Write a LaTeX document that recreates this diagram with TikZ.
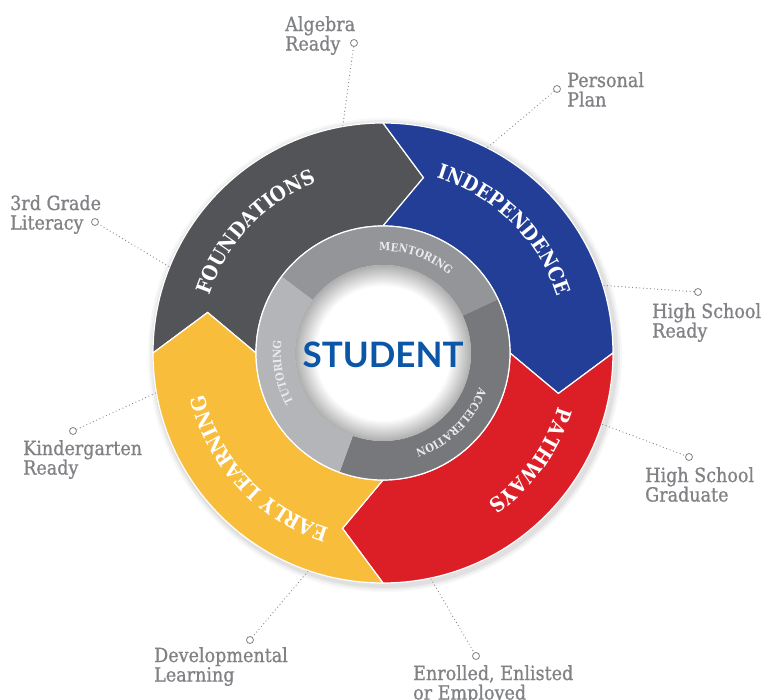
\documentclass[tikz,border=0pt]{standalone}
\usepackage{fontspec}
\setmainfont{DejaVu Serif}
\newfontfamily\milestonefont[FakeStretch=0.9,FakeBold=0.9]{DejaVu Serif}
\newfontfamily\ringfont[FakeStretch=0.9]{DejaVu Serif}
\newfontfamily\hubfont{Lato}
\usetikzlibrary{arrows.meta,positioning,calc,decorations.text}

\definecolor{foundgray}{HTML}{525457}
\definecolor{indblue}{HTML}{233E96}
\definecolor{pathred}{HTML}{DC1F27}
\definecolor{earlyyellow}{HTML}{F8BD3A}
\definecolor{mentorgray}{HTML}{939598}
\definecolor{accelgray}{HTML}{77787B}
\definecolor{tutorgray}{HTML}{B4B5B8}
\definecolor{labelgray}{HTML}{808285}
\definecolor{studentblue}{HTML}{0B56A6}

\pgfdeclareradialshading{hubglow}{\pgfpoint{0bp}{0bp}}{%
  color(0bp)=(white); color(19bp)=(white); color(25bp)=(black!32); color(50bp)=(black!32)}

\newcommand{\segfont}{\ringfont\bfseries\fontsize{20.5}{20.5}\selectfont}
\newcommand{\innerfont}{\ringfont\bfseries\fontsize{11.2}{11.2}\selectfont}

\tikzset{
  ringword/.style={decorate,decoration={text along path,text align=center,
      text color=white,text={|\segfont|#1}}},
  innerword/.style={decorate,decoration={text along path,text align=center,
      text color=white!92!black,text={|\innerfont|#1}}},
  marker/.style={circle,draw=labelgray,fill=white,line width=0.8pt,
      inner sep=0pt,minimum size=7pt},
  leader/.style={labelgray,line width=1.2pt,line cap=round,dash pattern=on 0pt off 3.6pt},
  milestone/.style={anchor=north west,align=left,inner sep=0pt,text=labelgray,
      font=\milestonefont\fontsize{19.5}{19.5}\selectfont}
}

\begin{document}
\begin{tikzpicture}[x=1pt,y=1pt]
        \useasboundingbox (-383,-347) rectangle (385,353);
        \fill[white] (-383,-347) rectangle (385,353);

        % Soft shadow round the outer ring
        \foreach \r/\op in {237/0.03,235/0.04,233/0.05}
            \fill[black,opacity=\op] (2,-2) circle (\r);

        % Outer ring: four arrow pieces, each pointing clockwise
        \foreach \a/\col in {180/foundgray,90/indblue,0/pathred,270/earlyyellow} {
            \fill[\col,draw=white,line width=1.2pt,line join=miter]
                (\a:230) arc[start angle=\a,end angle=\a-90,radius=230]
                -- (\a-103:180) -- (\a-90:127)
                arc[start angle=\a-90,end angle=\a,radius=127]
                -- (\a-13:180) -- cycle;
        }

        % Ring words
        \path[ringword=FOUNDATIONS] (196.5:183) arc[start angle=196.5,end angle=76.5,radius=183];
        \path[ringword=INDEPENDENCE] (105.5:183) arc[start angle=105.5,end angle=-14.5,radius=183];
        \path[ringword=PATHWAYS] (24:183) arc[start angle=24,end angle=-96,radius=183];
        \path[ringword=EARLY LEARNING] (283:183) arc[start angle=283,end angle=163,radius=183];

        % Inner grey ring
        \foreach \s/\e/\col in {143/25/mentorgray,25/-110/accelgray,250/143/tutorgray}
            \fill[\col] (\s:127) arc[start angle=\s,end angle=\e,radius=127]
                -- (\e:88) arc[start angle=\e,end angle=\s,radius=88] -- cycle;
        \draw[white,line width=1.2pt] (0,0) circle (127);

        \path[innerword=MENTORING] (131:102) arc[start angle=131,end angle=11,radius=102];
        \path[innerword=ACCELERATION] (14.5:102) arc[start angle=14.5,end angle=-105.5,radius=102];
        \path[innerword=TUTORING] (251:102) arc[start angle=251,end angle=131,radius=102];

        % Hub
        \shade[shading=hubglow] (0,0) circle (88);
        \node[font=\hubfont\bfseries\fontsize{35}{35}\selectfont,text=studentblue]
            (hub) at (0,-2) {STUDENT};

        % Milestones round the ring
        \foreach \name/\ang/\mx/\my/\tx/\ty/\txt in {
                alg/100/-29/310/-98/337/{Algebra\\Ready},
                plan/63/174/264/184/281/{Personal\\Plan},
                lit/158/-288/131/-373/158/{3rd Grade\\Literacy},
                hsr/17/315/61/269/50/{High School\\Ready},
                kin/190/-310/-78/-360/-87/{Kindergarten\\Ready},
                hsg/-18/306/-104/262/-114/{High School\\Graduate},
                dev/251/-133/-287/-229/-294/{Developmental\\Learning},
                emp/-78/93/-303/30/-312/{Enrolled, Enlisted\\or Employed}} {
            \coordinate (\name-end) at (\ang:231);
            \node[marker] (\name) at (\mx,\my) {};
            \draw[leader] (\name-end) -- (\name);
            \node[milestone] (\name-txt) at (\tx,\ty) {\txt};
        }
    \end{tikzpicture}
\end{document}
